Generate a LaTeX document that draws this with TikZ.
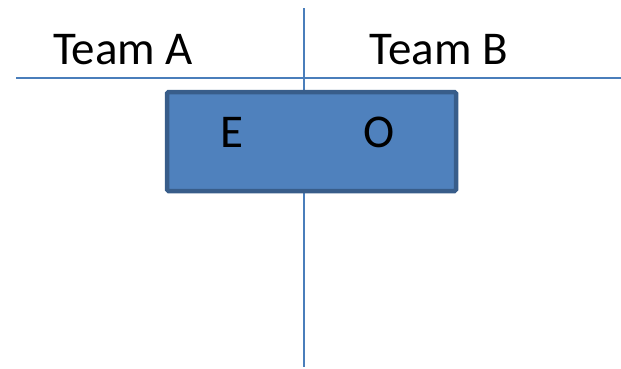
\documentclass[tikz,border=0pt]{standalone}
\usepackage{fontspec}
\setmainfont{Carlito}
\definecolor{linec}{HTML}{4A7EBB}
\definecolor{fillc}{HTML}{4F81BD}
\definecolor{borderc}{HTML}{385D8A}
\begin{document}
\begin{tikzpicture}[x=1pt,y=-1pt,
  guide/.style={draw=linec,line width=1.5pt},
  lbl/.style={font=\fontsize{47}{52}\selectfont,anchor=base,inner sep=0pt},
  box/.style={draw=borderc,fill=fillc,line width=4.5pt,rounded corners=1.5pt}]
\useasboundingbox (0,0) rectangle (621,368);
\coordinate (vt) at (304,8);
\coordinate (vb) at (304,367);
\coordinate (hl) at (16,78);
\coordinate (hr) at (621,78);
\draw[guide] (vt) -- (vb);
\draw[guide] (hl) -- (hr);
\node[box,minimum width=289pt,minimum height=99pt,inner sep=0pt] (b) at (311.5,141.5) {};
\node[lbl] (ta) at (123,64) {Team A};
\node[lbl] (tb) at (439,64) {Team B};
\node[lbl] (e) at (232,147) {E};
\node[lbl] (o) at (379,147) {O};
\end{tikzpicture}
\end{document}
